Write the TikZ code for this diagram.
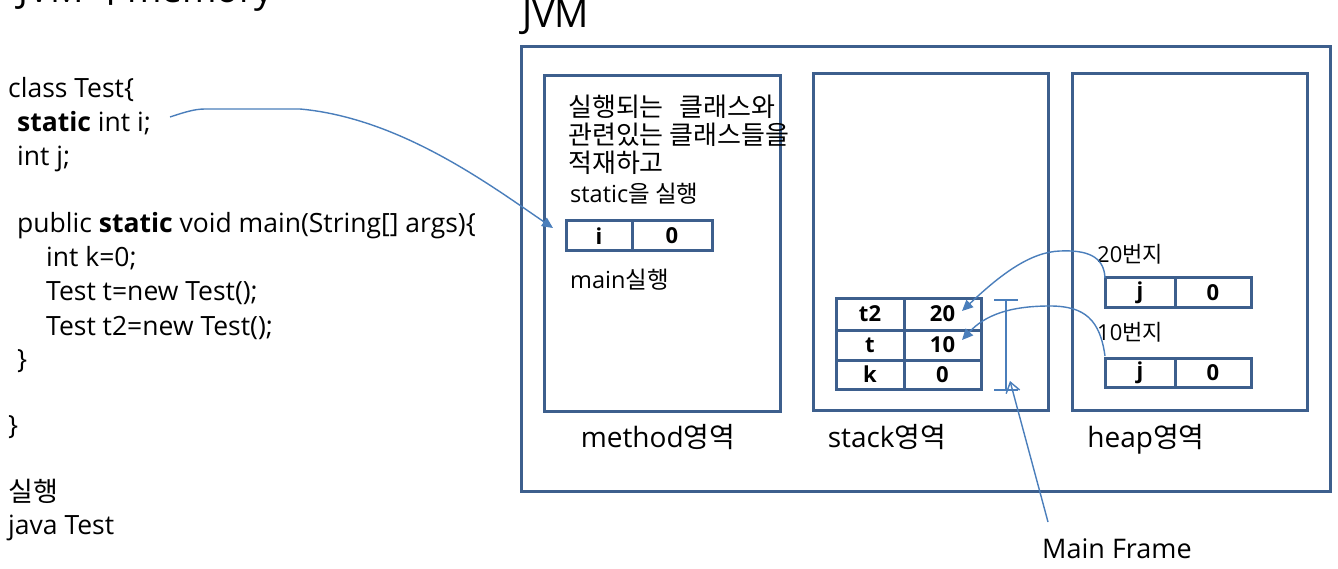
\documentclass[tikz,border=0pt]{standalone}
\usepackage{fontspec}
\setmainfont{Open Sans}
\newfontfamily\kr{Noto Sans CJK KR}
\usetikzlibrary{arrows.meta}
\definecolor{boxc}{HTML}{3D5F8D}
\definecolor{arrc}{HTML}{4A7EBB}
\begin{document}
\begin{tikzpicture}[x=1pt,y=-1pt,
  code/.style={anchor=base west, inner sep=0, font=\fontsize{26.5}{30}\selectfont},
  small/.style={anchor=base west, inner sep=0, font=\fontsize{23}{26}\selectfont},
  lab/.style={anchor=base, inner sep=0, font=\fontsize{28}{32}\selectfont},
  area/.style={draw=boxc, line width=3pt},
  cell/.style={draw=boxc, line width=3pt, inner sep=0, font=\bfseries\fontsize{22}{25}\selectfont},
  link/.style={draw=arrc, line width=1.4pt, -{Triangle[length=11pt,width=10pt]}},
  bracketline/.style={draw=arrc, line width=1.4pt}
]
\useasboundingbox (0,0) rectangle (1338,569);
\fill[white] (0,0) rectangle (1338,569);

% title (cut off at top)
\node[code, font=\fontsize{37}{40}\selectfont] (title) at (18,3) {JVM{\kr 의} memory};

% code
\node[code] (c1) at (8,98) {class Test\{};
\node[code] (c2) at (17,132) {\textbf{static} int i;};
\node[code] (c3) at (17,166) {int j;};
\node[code] (c4) at (17,233) {public \textbf{static} void main(String[] args)\{};
\node[code] (c5) at (46,267) {int k=0;};
\node[code] (c6) at (46,301) {Test t=new Test();};
\node[code] (c7) at (46,335) {Test t2=new Test();};
\node[code] (c8) at (17,368) {\}};
\node[code] (c9) at (8,434) {\}};
\node[code, font=\kr\fontsize{27}{30}\selectfont] (c10) at (8,501) {실행};
\node[code] (c11) at (8,534) {java Test};

% JVM
\node[code, font=\fontsize{38}{42}\selectfont] (jvmlab) at (522,28) {JVM};
\draw[area] (521,47) rectangle (1330,491);
\draw[area] (544,76) rectangle (780,411);
\draw[area] (813,74) rectangle (1048,410);
\draw[area] (1072,74) rectangle (1307,410);

\node[lab] (mlab) at (658,447) {method{\kr 영역}};
\node[lab] (slab) at (887,447) {stack{\kr 영역}};
\node[lab] (hlab) at (1146,447) {heap{\kr 영역}};

% method area text
\node[small, font=\kr\fontsize{26}{28}\selectfont] (m1) at (568,117) {실행되는\hspace{0.6em}클래스와};
\node[small, font=\kr\fontsize{26}{28}\selectfont] (m2) at (568,145) {관련있는 클래스들을};
\node[small, font=\kr\fontsize{26}{28}\selectfont] (m3) at (568,173) {적재하고};
\node[small, font=\fontsize{23.5}{26}\selectfont] (m4) at (570,203) {static{\kr 을 실행}};
\node[small, font=\fontsize{23.5}{26}\selectfont] (m5) at (570,289) {main{\kr 실행}};

\node[cell, minimum width=66pt, minimum height=30pt] (ik) at (599,236) {i};
\node[cell, minimum width=80pt, minimum height=30pt] (iv) at (672,236) {0};

% stack
\node[cell, minimum width=68pt, minimum height=32pt] (t2k) at (870,314) {t2};
\node[cell, minimum width=77pt, minimum height=32pt] (t2v) at (942.5,314) {20};
\node[cell, minimum width=68pt, minimum height=30pt] (tk) at (870,345) {t};
\node[cell, minimum width=77pt, minimum height=30pt] (tv) at (942.5,345) {10};
\node[cell, minimum width=68pt, minimum height=29pt] (kk) at (870,374.5) {k};
\node[cell, minimum width=77pt, minimum height=29pt] (kv) at (942.5,374.5) {0};

% heap
\node[small, font=\fontsize{22}{25}\selectfont] (h20) at (1097,262) {20{\kr 번지}};
\node[cell, minimum width=70pt, minimum height=29pt] (j1k) at (1140,292.5) {j};
\node[cell, minimum width=76pt, minimum height=29pt] (j1v) at (1213,292.5) {0};
\node[small, font=\fontsize{22}{25}\selectfont] (h10) at (1097,340) {10{\kr 번지}};
\node[cell, minimum width=70pt, minimum height=29pt] (j2k) at (1140,372.5) {j};
\node[cell, minimum width=76pt, minimum height=29pt] (j2v) at (1213,372.5) {0};

% main frame bracket
\coordinate (bt) at (1006,300);
\coordinate (bb) at (1006,390);
\draw[bracketline] (bt) -- (bb);
\draw[bracketline] ([xshift=-12pt]bt) -- ([xshift=12pt]bt);
\draw[bracketline] ([xshift=-12pt]bb) -- ([xshift=12pt]bb);
\node[lab, anchor=base west, font=\fontsize{27}{30}\selectfont] (mf) at (1042,558) {Main Frame};
\coordinate (mfs) at (1048,522);
\coordinate (mft) at (1010,381);
\draw[draw=arrc, line width=1.4pt, -{Straight Barb[length=10pt,width=14pt]}] (mfs) -- (mft);

% static i arrow
\coordinate (si) at (170,117);
\coordinate (ie) at (553,228);
\draw[link] (si) .. controls (185,112) and (195,109) .. (205,109)
  -- (300,109) .. controls (400,118) and (490,185) .. (ie);

% heap -> stack arrows
\coordinate (h1) at (1105,278);
\coordinate (a20) at (962,311);
\draw[link] (h1) .. controls (1104,255) and (1085,250) .. (1060,251)
  .. controls (1030,252) and (1000,275) .. (a20);
\coordinate (h2) at (1105,356);
\coordinate (a10) at (962,340);
\draw[link] (h2) .. controls (1100,320) and (1085,306) .. (1050,306)
  .. controls (1010,306) and (985,315) .. (a10);
\end{tikzpicture}
\end{document}
